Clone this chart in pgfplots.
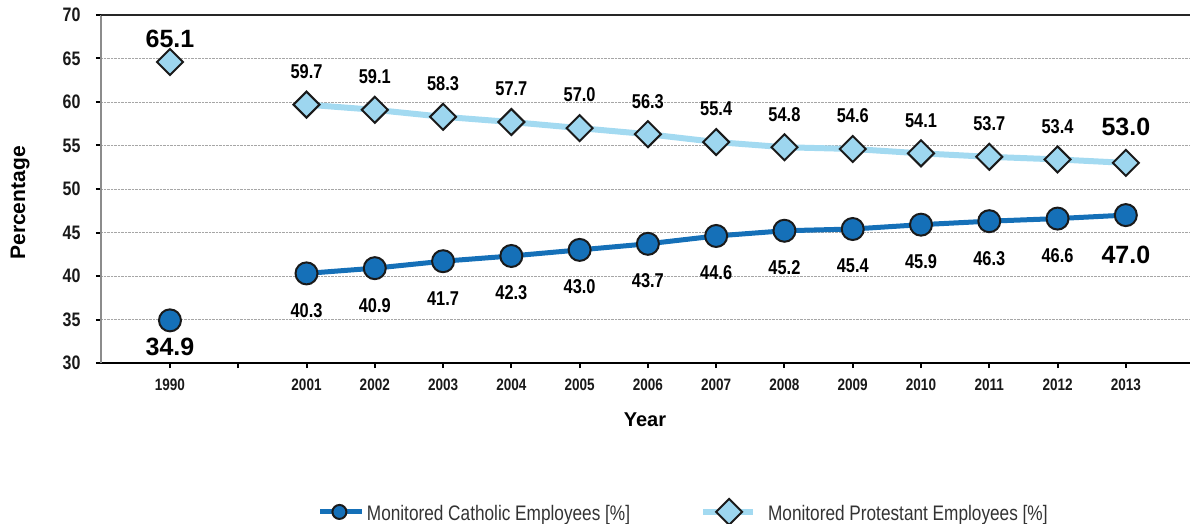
\documentclass[border=0pt]{standalone}
\usepackage{pgfplots}
\pgfplotsset{compat=1.18}
\usepackage{pgfplotstable}
\usepackage{fontspec}
\setmainfont{Liberation Sans}
\newfontfamily\narrow{Liberation Sans}[FakeStretch=0.82]
\definecolor{catblue}{HTML}{1570B8}
\definecolor{protblue}{HTML}{A3DAF1}
\definecolor{protfill}{HTML}{9DD6EF}
\definecolor{edge}{HTML}{1A1A1A}
\definecolor{leggray}{HTML}{333333}
\newcommand\labN{\narrow\bfseries\fontsize{20}{20}\selectfont}
\newcommand\labB{\bfseries\fontsize{25}{25}\selectfont}

\pgfplotstableread{
x y lbl dy big
0 34.9 34.9 -27 1
1 nan x 0 0
2 40.3 40.3 -37 0
3 40.9 40.9 -37 0
4 41.7 41.7 -37 0
5 42.3 42.3 -37 0
6 43.0 43.0 -37 0
7 43.7 43.7 -37 0
8 44.6 44.6 -37 0
9 45.2 45.2 -37 0
10 45.4 45.4 -37 0
11 45.9 45.9 -37 0
12 46.3 46.3 -37 0
13 46.6 46.6 -37 0
14 47.0 47.0 -40 1
}\cath

\pgfplotstableread{
x y lbl dy big
0 64.6 65.1 23 1
1 nan x 0 0
2 59.7 59.7 33 0
3 59.1 59.1 33 0
4 58.3 58.3 33 0
5 57.7 57.7 33 0
6 57.0 57.0 33 0
7 56.3 56.3 33 0
8 55.4 55.4 33 0
9 54.8 54.8 33 0
10 54.6 54.6 33 0
11 54.1 54.1 33 0
12 53.7 53.7 33 0
13 53.4 53.4 33 0
14 53.0 53.0 36 1
}\prot

\begin{document}
\begin{tikzpicture}
\begin{axis}[
  name=ax,
  at={(0,0)}, anchor=south west,
  scale only axis,
  width=1089pt, height=348pt,
  xmin=-1.01, xmax=14.94,
  ymin=30, ymax=70,
  ytick={30,35,...,70},
  xtick={0,...,14},
  xticklabels={1990,,2001,2002,2003,2004,2005,2006,2007,2008,2009,2010,2011,2012,2013},
  /pgf/number format/assume math mode=true,
  axis lines=left,
  axis line style={-},
  x axis line style={black, line width=2pt},
  y axis line style={black!45, line width=2.5pt},
  tick align=outside,
  major tick length=5pt,
  tick style={black, line width=2pt},
  ymajorgrids,
  major grid style={black!35, densely dotted, line width=0.8pt},
  yticklabel style={font=\narrow\bfseries\fontsize{19.5}{19.5}\selectfont, text=black!90, xshift=-12pt},
  xticklabel style={font=\narrow\bfseries\fontsize{16.5}{16.5}\selectfont, text=black!90, yshift=-7pt},
  xlabel={Year}, ylabel={Percentage},
  xlabel style={font=\bfseries\fontsize{20}{20}\selectfont, at={(axis description cs:0.4995,-0.164)}, anchor=center},
  ylabel style={font=\bfseries\fontsize{21}{21}\selectfont, at={(axis description cs:-0.0743,0.46)}, anchor=center},
  clip=false,
  unbounded coords=jump,
  legend columns=2,
  legend style={at={(axis description cs:0.199,-0.428)}, anchor=west, draw=none, fill=none,
    font=\narrow\fontsize{21}{21}\selectfont, text=leggray,
    inner xsep=0pt, inner ysep=0pt,
    /tikz/every even column/.append style={column sep=68pt}},
]
\addplot[catblue, line width=5pt, mark=*, mark size=11pt,
  mark options={fill=catblue, draw=edge, line width=2pt},
  nodes near coords, point meta=explicit symbolic,
  visualization depends on={\thisrow{dy} \as \dy},
  visualization depends on={\thisrow{big} \as \isbig},
  every node near coord/.append style={anchor=center, yshift=\dy pt, font={\ifdim\isbig pt>0.5pt\labB\else\labN\fi}, text=black, inner sep=0pt},
  legend image code/.code={
    \draw[catblue, line width=5pt] (0pt,1.8pt) -- (42pt,1.8pt);
    \draw[fill=catblue, draw=edge, line width=2pt] (19pt,1.8pt) circle (7pt);
    \path (41pt,0pt);}
] table[x=x, y=y, meta=lbl] {\cath};
\addlegendentry{Monitored Catholic Employees [\%]}

\addplot[protblue, line width=6pt, mark=square*, mark size=9.2pt,
  mark options={rotate=45, fill=protfill, draw=edge, line width=2pt},
  nodes near coords, point meta=explicit symbolic,
  visualization depends on={\thisrow{dy} \as \dy},
  visualization depends on={\thisrow{big} \as \isbig},
  every node near coord/.append style={anchor=center, yshift=\dy pt, font={\ifdim\isbig pt>0.5pt\labB\else\labN\fi}, text=black, inner sep=0pt},
  legend image code/.code={
    \draw[protblue, line width=6pt] (0pt,1.8pt) -- (50pt,1.8pt);
    \draw[fill=protfill, draw=edge, line width=2pt] (26pt,-11.2pt) -- (39pt,1.8pt) -- (26pt,14.8pt) -- (13pt,1.8pt) -- cycle;
    \path (60pt,0pt);}
] table[x=x, y=y, meta=lbl] {\prot};
\addlegendentry{Monitored Protestant Employees [\%]}

\draw[black!85, line width=2pt] (rel axis cs:0,1) -- (rel axis cs:1,1);
\end{axis}
\pgfresetboundingbox
\path[use as bounding box] ([shift={(-101pt,-161pt)}]ax.south west) rectangle ([yshift=15pt]ax.north east);
\end{tikzpicture}
\end{document}
